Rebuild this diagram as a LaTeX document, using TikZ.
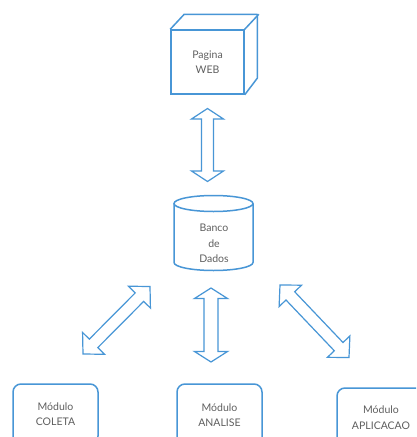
\documentclass[tikz,border=0pt]{standalone}
\usepackage{fontspec}
\setmainfont{Lato}
\usetikzlibrary{calc}
\definecolor{strokeblue}{RGB}{72,150,214}
\definecolor{labelgray}{RGB}{95,95,95}
\tikzset{
  shapeline/.style={draw=strokeblue, line width=1.5pt},
  labeltext/.style={text=labelgray, align=center, font=\fontsize{10.5}{15.5}\selectfont},
  modbox/.style={shapeline, labeltext, rounded corners=8pt, minimum width=85pt, inner sep=0pt},
  hollow/.style={draw=strokeblue, line width=1.2pt, line join=miter, fill=white},
}
% hollow double-headed arrow between two named coordinates:
% #1 start, #2 end, #3 head length, #4 head half-width, #5 shaft half-width
\newcommand\hollowarrow[5]{%
  \coordinate (ha) at ($(#1)!#3!(#2)$);
  \coordinate (hb) at ($(#2)!#3!(#1)$);
  \draw[hollow] (#1) -- ($(ha)!#4!90:(#2)$) -- ($(ha)!#5!90:(#2)$)
    -- ($(hb)!#5!-90:(#1)$) -- ($(hb)!#4!-90:(#1)$) -- (#2)
    -- ($(hb)!#4!90:(#1)$) -- ($(hb)!#5!90:(#1)$)
    -- ($(ha)!#5!-90:(#2)$) -- ($(ha)!#4!-90:(#2)$) -- cycle;}
\begin{document}
\begin{tikzpicture}[x=1pt, y=-1pt]
  \useasboundingbox (0,0) rectangle (416,437);
  \clip (0,0) rectangle (416,437);
  \fill[white] (0,0) rectangle (416,437);

  % web page: a box drawn as a cube
  \node[shapeline, labeltext, minimum width=73pt, minimum height=64pt, inner sep=0pt] (web) at (207.5,62) {Pagina\\WEB};
  \draw[shapeline, line join=round] (web.north west) -- ++(14,-15) -- ++(73,0) -- ++(0,64) -- (web.south east);
  \draw[shapeline, line join=round] (web.north east) -- ++(14,-15);

  % database: a cylinder around its label
  \node[labeltext, inner sep=0pt] (db) at (214,243.5) {Banco\\de\\Dados};
  \draw[shapeline] (213.5,203.5) ellipse [x radius=39.5pt, y radius=8pt];
  \draw[shapeline] (174,203.5) -- (174,262.5)
    arc[start angle=180, end angle=360, x radius=39.5pt, y radius=8pt] -- (253,203.5);

  % modules
  \node[modbox, minimum height=60pt] (coleta) at (55.5,414) {Módulo\\COLETA};
  \node[modbox, minimum height=62pt] (analise) at (219.5,415) {Módulo\\ANALISE};
  \node[modbox, minimum width=88pt, minimum height=59pt] (aplic) at (381,417.5) {Módulo\\APLICACAO};

  % connector ends
  \coordinate (webA) at (207.5,108.5);
  \coordinate (webB) at (207.5,181.5);
  \coordinate (colA) at (150,286.5);
  \coordinate (colB) at (83,354);
  \coordinate (anaA) at (211,288);
  \coordinate (anaB) at (211,362);
  \coordinate (apA) at (280,285);
  \coordinate (apB) at (349,357.5);

  \hollowarrow{webA}{webB}{10.5pt}{16pt}{6pt}
  \hollowarrow{colA}{colB}{15pt}{15.5pt}{6pt}
  \hollowarrow{anaA}{anaB}{10.5pt}{16.5pt}{7pt}
  \hollowarrow{apA}{apB}{15pt}{15.5pt}{6pt}
\end{tikzpicture}
\end{document}
